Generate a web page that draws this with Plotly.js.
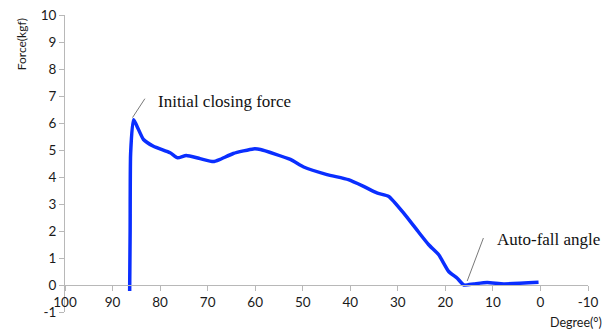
<!DOCTYPE html>
<html>
<head>
<meta charset="utf-8">
<script src="https://cdn.plot.ly/plotly-3.0.1.min.js"></script>
<style>html,body{margin:0;padding:0;background:#fff;}#chart{width:606px;height:331px;}</style>
</head>
<body>
<div id="chart"></div>
<script>
var degree = [86.4, 86.3, 86.2, 85.6, 83.5, 81.4, 77.9, 76.3, 74.5, 71.6, 68.8, 67.4, 64.6, 60.4, 58.9, 52.6, 49.8, 44.9, 40.4, 37.2, 34.4, 31.9, 28.8, 26.0, 23.5, 21.4, 19.3, 17.5, 16.1, 14.0, 11.2, 7.7, 0.4];
var force  = [-0.22, 2.0, 4.85, 6.12, 5.39, 5.14, 4.90, 4.71, 4.80, 4.68, 4.57, 4.65, 4.87, 5.04, 5.02, 4.65, 4.37, 4.09, 3.90, 3.65, 3.41, 3.28, 2.67, 2.04, 1.49, 1.12, 0.50, 0.25, 0.0, 0.04, 0.09, 0.04, 0.10];
var xTicks = [100, 90, 80, 70, 60, 50, 40, 30, 20, 10, 0, -10];
var yTicks = [-1, 0, 1, 2, 3, 4, 5, 6, 7, 8, 9, 10];
var labelInitial = "Initial closing force";
var labelAutoFall = "Auto-fall angle";
var xTitle = "Degree(°)";
var yTitle = "Force(kgf)";

var trace = {
  x: degree, y: force, type: 'scatter', mode: 'lines',
  line: {color: '#0a2eff', width: 3.5, shape: 'spline', smoothing: 0.5},
  hoverinfo: 'none'
};
var tickFont = {family: 'Lato, "Open Sans", sans-serif', size: 13.5, color: '#1a1a1a'};
var layout = {
  width: 606, height: 331,
  margin: {l: 65, r: 18, t: 15, b: 19},
  paper_bgcolor: '#fff', plot_bgcolor: '#fff',
  showlegend: false,
  xaxis: {
    range: [100, -10], tickvals: xTicks, ticktext: xTicks.map(String),
    showgrid: false, zeroline: false, showline: true, linecolor: '#b8b8b8', linewidth: 1,
    ticks: 'outside', ticklen: 5, tickcolor: '#b8b8b8',
    anchor: 'free', position: 1/11, tickfont: tickFont
  },
  yaxis: {
    range: [-1, 10], tickvals: yTicks, ticktext: yTicks.map(String),
    showgrid: false, zeroline: false, showline: true, linecolor: '#b8b8b8', linewidth: 1,
    ticks: 'outside', ticklen: 5, tickcolor: '#b8b8b8', tickfont: tickFont
  },
  shapes: [
    {type: 'line', xref: 'x', yref: 'y', x0: 85.8, y0: 6.2, x1: 83.2, y1: 6.9, line: {color: '#555', width: 0.8}},
    {type: 'line', xref: 'x', yref: 'y', x0: 15.4, y0: 0.15, x1: 12.0, y1: 1.74, line: {color: '#555', width: 0.8}}
  ],
  annotations: [
    {text: labelInitial, x: 80.8, y: 6.81, xref: 'x', yref: 'y', xanchor: 'left', yanchor: 'middle', showarrow: false,
     font: {family: '"Liberation Serif", "DejaVu Serif", serif', size: 17, color: '#111'}},
    {text: labelAutoFall, x: 9.5, y: 1.67, xref: 'x', yref: 'y', xanchor: 'left', yanchor: 'middle', showarrow: false,
     font: {family: '"Liberation Serif", "DejaVu Serif", serif', size: 17, color: '#111'}},
    {text: yTitle, xref: 'paper', yref: 'paper', x: -0.083, y: 0.90, xanchor: 'center', yanchor: 'middle', textangle: -90, showarrow: false,
     font: {family: 'Lato, "Open Sans", sans-serif', size: 12, color: '#1a1a1a'}},
    {text: xTitle, xref: 'paper', yref: 'paper', x: 1.03, y: -0.035, xanchor: 'right', yanchor: 'middle', showarrow: false,
     font: {family: 'Lato, "Open Sans", sans-serif', size: 12.5, color: '#1a1a1a'}}
  ]
};
Plotly.newPlot('chart', [trace], layout, {displayModeBar: false, staticPlot: true});
</script>
</body>
</html>
